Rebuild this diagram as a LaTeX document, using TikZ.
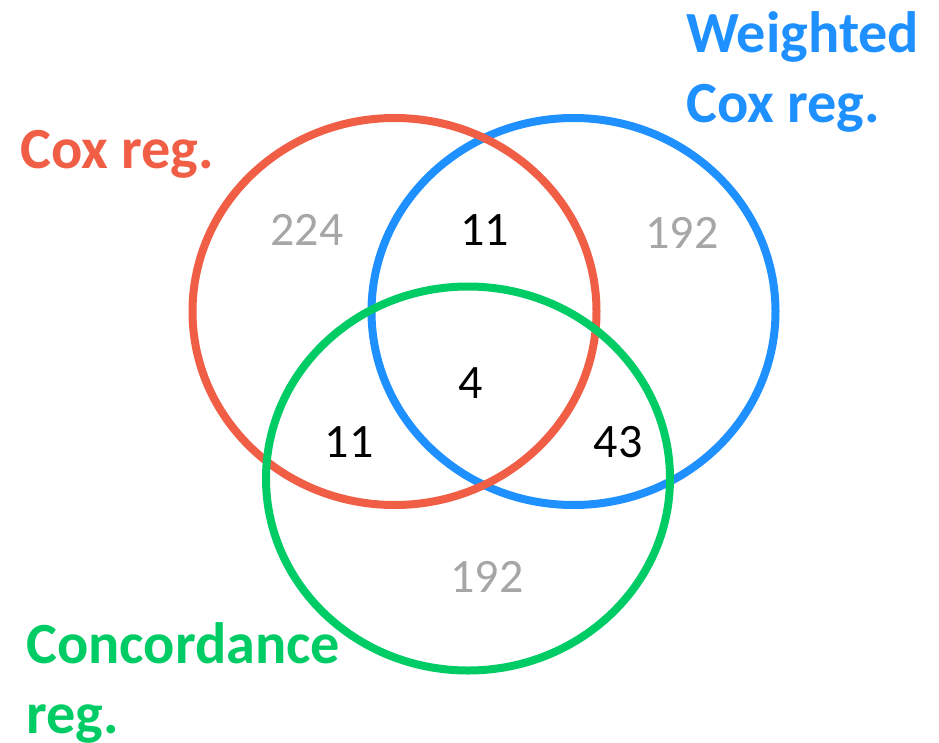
\documentclass[tikz,border=0pt]{standalone}
\usepackage{fontspec}
\setmainfont{Carlito}
\usetikzlibrary{shapes.geometric}
\definecolor{vred}{RGB}{240,94,70}
\definecolor{vblue}{RGB}{30,144,255}
\definecolor{vgreen}{RGB}{0,204,102}
\definecolor{vgray}{RGB}{166,166,166}
\tikzset{
  setring/.style={ellipse, line width=8pt, inner sep=0pt, minimum width=404pt, minimum height=387pt},
  setlabel/.style={inner sep=0pt, anchor=base west, font=\fontsize{58.3}{70}\selectfont\bfseries},
  count/.style={inner sep=0pt, anchor=base, font=\fontsize{48}{58}\selectfont},
  minor/.style={count, text=vgray},
  major/.style={count, text=black}
}
\begin{document}
\begin{tikzpicture}[x=1pt,y=-1pt]
\useasboundingbox (0,0) rectangle (939,742);
\fill[white] (0,0) rectangle (939,742);
\node[setring, draw=vblue] (cblue) at (573.5,311.5) {};
\node[setring, draw=vred] (cred) at (394.5,311.5) {};
\node[setring, draw=vgreen, minimum height=384pt] (cgreen) at (468,478.5) {};
\node[setlabel, text=vred] (lcox) at (20,168) {Cox reg.};
\node[setlabel, text=vblue] (lwcox) at (686,52) {\begin{tabular}[t]{@{}l@{}}Weighted\\Cox reg.\end{tabular}};
\node[setlabel, text=vgreen] (lcon) at (26,663) {\begin{tabular}[t]{@{}l@{}}Concordance\\reg.\end{tabular}};
\node[minor] (n224) at (307,245) {224};
\node[major] (n11a) at (484.5,245) {11};
\node[minor] (n192a) at (682,248) {192};
\node[major] (n4) at (471,398) {4};
\node[major] (n11b) at (349,457) {11};
\node[major] (n43) at (618,457) {43};
\node[minor] (n192b) at (487,592) {192};
\end{tikzpicture}
\end{document}
